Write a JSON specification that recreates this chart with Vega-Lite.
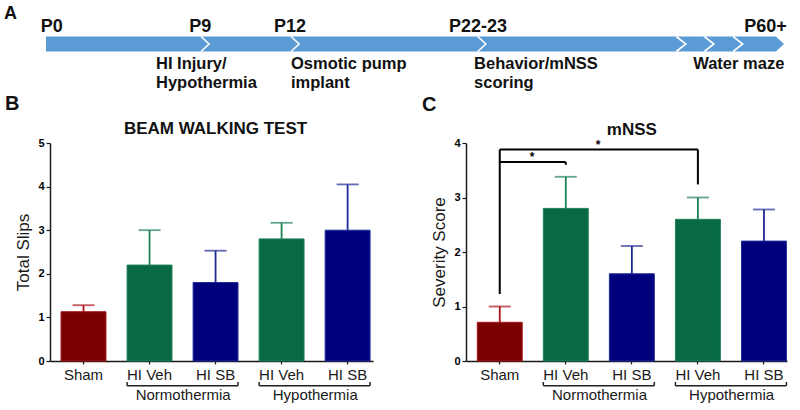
{
  "$schema": "https://vega.github.io/schema/vega-lite/v6.json",
  "background": "white",
  "padding": {"left": 3, "top": 2, "right": 5, "bottom": 0},
  "spacing": 2,
  "config": {
    "font": "Liberation Sans",
    "view": {"stroke": null},
    "axis": {"grid": false, "domainColor": "#1a1a1a", "domainWidth": 1.5, "tickColor": "#1a1a1a", "tickWidth": 1.2, "labelColor": "#1a1a1a", "titleColor": "#1a1a1a", "labelFont": "Liberation Sans", "titleFont": "Liberation Sans"},
    "axisY": {"labelFontWeight": "bold", "labelFontSize": 11, "labelColor": "#000", "tickSize": 4, "labelPadding": 2, "titlePadding": 5, "titleFontSize": 17, "titleFontWeight": "normal"},
    "axisX": {"labelAngle": 0, "labelFontSize": 15, "tickSize": 3, "labelPadding": 3},
    "title": {"font": "Liberation Sans"}
  },
  "vconcat": [
    {
      "width": 734,
      "height": 84,
      "layer": [
        {
          "data": {"values": [{"u": 0, "lo": -0.75, "hi": 0.75}, {"u": 98.9, "lo": -0.75, "hi": 0.75}, {"u": 100, "lo": 0, "hi": 0}]},
          "mark": {"type": "area", "color": "#5b9bd5"},
          "encoding": {
            "x": {"field": "u", "type": "quantitative", "scale": {"domain": [0.54, 100], "nice": false, "zero": false}, "axis": null},
            "y": {"field": "lo", "type": "quantitative", "scale": {"domain": [-4.2, 4.2], "nice": false, "zero": false}, "axis": null},
            "y2": {"field": "hi"}
          }
        },
        {
          "data": {"values": [
            {"c": 1, "k": 1, "u": 21.0, "v": 0.75}, {"c": 1, "k": 2, "u": 22.1, "v": 0}, {"c": 1, "k": 3, "u": 21.0, "v": -0.75},
            {"c": 2, "k": 1, "u": 33.2, "v": 0.75}, {"c": 2, "k": 2, "u": 34.3, "v": 0}, {"c": 2, "k": 3, "u": 33.2, "v": -0.75},
            {"c": 3, "k": 1, "u": 58.5, "v": 0.75}, {"c": 3, "k": 2, "u": 59.6, "v": 0}, {"c": 3, "k": 3, "u": 58.5, "v": -0.75},
            {"c": 4, "k": 1, "u": 85.4, "v": 0.75}, {"c": 4, "k": 2, "u": 86.7, "v": 0}, {"c": 4, "k": 3, "u": 85.4, "v": -0.75},
            {"c": 5, "k": 1, "u": 89.2, "v": 0.75}, {"c": 5, "k": 2, "u": 90.5, "v": 0}, {"c": 5, "k": 3, "u": 89.2, "v": -0.75},
            {"c": 6, "k": 1, "u": 93.1, "v": 0.75}, {"c": 6, "k": 2, "u": 94.4, "v": 0}, {"c": 6, "k": 3, "u": 93.1, "v": -0.75}
          ]},
          "mark": {"type": "line", "color": "white", "strokeWidth": 1.6},
          "encoding": {
            "x": {"field": "u", "type": "quantitative", "axis": null},
            "y": {"field": "v", "type": "quantitative", "axis": null},
            "detail": {"field": "c"},
            "order": {"field": "k"}
          }
        },
        {
          "data": {"values": [{"label": "P0", "u": -0.7}, {"label": "P9", "u": 19.4}, {"label": "P12", "u": 30.9}, {"label": "P22-23", "u": 54.6}, {"label": "P60+", "u": 94.6}]},
          "mark": {"type": "text", "align": "left", "baseline": "alphabetic", "fontSize": 18, "fontWeight": "bold", "color": "#111"},
          "encoding": {
            "x": {"field": "u", "type": "quantitative", "axis": null},
            "y": {"datum": 1.18, "type": "quantitative", "axis": null},
            "text": {"field": "label"}
          }
        },
        {
          "data": {"values": [{"label": "HI Injury/|Hypothermia", "u": 14.9}, {"label": "Osmotic pump|implant", "u": 33.2}, {"label": "Behavior/mNSS|scoring", "u": 58.0}, {"label": "Water maze", "u": 87.7}]},
          "mark": {"type": "text", "align": "left", "baseline": "alphabetic", "fontSize": 16.5, "fontWeight": "bold", "color": "#111", "lineBreak": "|", "lineHeight": 19.5},
          "encoding": {
            "x": {"field": "u", "type": "quantitative", "axis": null},
            "y": {"datum": -2.45, "type": "quantitative", "axis": null},
            "text": {"field": "label"}
          }
        },
        {
          "data": {"values": [{"label": "A", "u": -5.7}]},
          "mark": {"type": "text", "align": "left", "baseline": "alphabetic", "fontSize": 18, "fontWeight": "bold", "color": "#111"},
          "encoding": {
            "x": {"field": "u", "type": "quantitative", "axis": null},
            "y": {"datum": 2.55, "type": "quantitative", "axis": null},
            "text": {"field": "label"}
          }
        }
      ]
    },
    {
      "spacing": 48,
      "hconcat": [
        {
          "width": 323,
          "height": 218,
          "title": {"text": "B", "anchor": "start", "frame": "bounds", "fontSize": 20, "fontWeight": "bold", "dx": -10, "offset": 6, "color": "#111"},
          "data": {"values": [
            {"id": "Sham", "treatment": "Sham", "mean": 1.13, "upper": 1.28},
            {"id": "HI Veh_N", "treatment": "HI Veh", "mean": 2.2, "upper": 3.0},
            {"id": "HI SB_N", "treatment": "HI SB", "mean": 1.8, "upper": 2.53},
            {"id": "HI Veh_H", "treatment": "HI Veh", "mean": 2.8, "upper": 3.17},
            {"id": "HI SB_H", "treatment": "HI SB", "mean": 3.0, "upper": 4.05}
          ]},
          "encoding": {
            "x": {"field": "id", "type": "nominal",
              "scale": {"domain": ["Sham", "HI Veh_N", "HI SB_N", "HI Veh_H", "HI SB_H"], "paddingInner": 0.32, "paddingOuter": 0.106, "align": 0.79},
              "axis": {"title": null, "labelExpr": "split(datum.label,'_')[0]"}}
          },
          "layer": [
            {
              "mark": {"type": "bar", "strokeWidth": 1},
              "encoding": {
                "y": {"field": "mean", "type": "quantitative", "scale": {"domain": [0, 5], "nice": false},
                  "axis": {"title": "Total Slips", "values": [0, 1, 2, 3, 4, 5], "format": "d"}},
                "fill": {"field": "treatment", "type": "nominal", "scale": {"domain": ["Sham", "HI Veh", "HI SB"], "range": ["#7a0000", "#076a44", "#00007d"]}, "legend": null},
                "stroke": {"field": "treatment", "type": "nominal", "scale": {"domain": ["Sham", "HI Veh", "HI SB"], "range": ["#a8141a", "#1e8055", "#1f2a99"]}, "legend": null}
              }
            },
            {
              "mark": {"type": "rule", "strokeWidth": 1.8},
              "encoding": {
                "y": {"field": "mean", "type": "quantitative"},
                "y2": {"field": "upper"},
                "stroke": {"field": "treatment", "type": "nominal", "legend": null}
              }
            },
            {
              "mark": {"type": "tick", "thickness": 1.8, "size": 22},
              "encoding": {
                "y": {"field": "upper", "type": "quantitative"},
                "color": {"field": "treatment", "type": "nominal", "scale": {"domain": ["Sham", "HI Veh", "HI SB"], "range": ["#a8141a", "#1e8055", "#1f2a99"]}, "legend": null}
              }
            },
            {
              "data": {"values": [{"t": "BEAM WALKING TEST"}]},
              "mark": {"type": "text", "fontSize": 17, "fontWeight": "bold", "baseline": "alphabetic", "color": "#111"},
              "encoding": {
                "x": {"datum": "HI SB_N", "type": "nominal"},
                "y": {"datum": 5.2, "type": "quantitative"},
                "text": {"field": "t"}
              }
            },
            {
              "data": {"values": [{"from": "HI Veh_N", "to": "HI SB_N", "label": "Normothermia"}, {"from": "HI Veh_H", "to": "HI SB_H", "label": "Hypothermia"}]},
              "layer": [
                {
                  "mark": {"type": "rule", "strokeWidth": 1.5, "color": "#222"},
                  "encoding": {
                    "x": {"field": "from", "type": "nominal", "bandPosition": 0},
                    "x2": {"field": "to", "bandPosition": 1},
                    "y": {"datum": -0.57, "type": "quantitative"}
                  }
                },
                {
                  "mark": {"type": "rule", "strokeWidth": 1.5, "color": "#222"},
                  "encoding": {
                    "x": {"field": "from", "type": "nominal", "bandPosition": 0},
                    "y": {"datum": -0.57, "type": "quantitative"},
                    "y2": {"datum": -0.48}
                  }
                },
                {
                  "mark": {"type": "rule", "strokeWidth": 1.5, "color": "#222"},
                  "encoding": {
                    "x": {"field": "to", "type": "nominal", "bandPosition": 1},
                    "y": {"datum": -0.57, "type": "quantitative"},
                    "y2": {"datum": -0.48}
                  }
                },
                {
                  "mark": {"type": "text", "fontSize": 15, "baseline": "alphabetic", "color": "#1a1a1a"},
                  "encoding": {
                    "x": {"field": "from", "type": "nominal", "bandPosition": 1.25},
                    "y": {"datum": -0.9, "type": "quantitative"},
                    "text": {"field": "label"}
                  }
                }
              ]
            }
          ]
        },
        {
          "width": 321,
          "height": 218,
          "title": {"text": "C", "anchor": "start", "frame": "bounds", "fontSize": 20, "fontWeight": "bold", "dx": -9, "offset": 6, "color": "#111"},
          "data": {"values": [
            {"id": "Sham", "treatment": "Sham", "mean": 0.71, "upper": 1.0},
            {"id": "HI Veh_N", "treatment": "HI Veh", "mean": 2.8, "upper": 3.38},
            {"id": "HI SB_N", "treatment": "HI SB", "mean": 1.6, "upper": 2.11},
            {"id": "HI Veh_H", "treatment": "HI Veh", "mean": 2.6, "upper": 3.0},
            {"id": "HI SB_H", "treatment": "HI SB", "mean": 2.2, "upper": 2.78}
          ]},
          "encoding": {
            "x": {"field": "id", "type": "nominal",
              "scale": {"domain": ["Sham", "HI Veh_N", "HI SB_N", "HI Veh_H", "HI SB_H"], "paddingInner": 0.32, "paddingOuter": 0.09, "align": 0.95},
              "axis": {"title": null, "labelExpr": "split(datum.label,'_')[0]"}}
          },
          "layer": [
            {
              "mark": {"type": "bar", "strokeWidth": 1},
              "encoding": {
                "y": {"field": "mean", "type": "quantitative", "scale": {"domain": [0, 4], "nice": false},
                  "axis": {"title": "Severity Score", "values": [0, 1, 2, 3, 4], "format": "d"}},
                "fill": {"field": "treatment", "type": "nominal", "scale": {"domain": ["Sham", "HI Veh", "HI SB"], "range": ["#7a0000", "#076a44", "#00007d"]}, "legend": null},
                "stroke": {"field": "treatment", "type": "nominal", "scale": {"domain": ["Sham", "HI Veh", "HI SB"], "range": ["#a8141a", "#1e8055", "#1f2a99"]}, "legend": null}
              }
            },
            {
              "mark": {"type": "rule", "strokeWidth": 1.8},
              "encoding": {
                "y": {"field": "mean", "type": "quantitative"},
                "y2": {"field": "upper"},
                "stroke": {"field": "treatment", "type": "nominal", "legend": null}
              }
            },
            {
              "mark": {"type": "tick", "thickness": 1.8, "size": 22},
              "encoding": {
                "y": {"field": "upper", "type": "quantitative"},
                "color": {"field": "treatment", "type": "nominal", "scale": {"domain": ["Sham", "HI Veh", "HI SB"], "range": ["#a8141a", "#1e8055", "#1f2a99"]}, "legend": null}
              }
            },
            {
              "data": {"values": [{"t": "mNSS"}]},
              "mark": {"type": "text", "fontSize": 17, "fontWeight": "bold", "baseline": "alphabetic", "color": "#111"},
              "encoding": {
                "x": {"datum": "HI SB_N", "type": "nominal"},
                "y": {"datum": 4.15, "type": "quantitative"},
                "text": {"field": "t"}
              }
            },
            {
              "data": {"values": [{"at": "Sham", "lo": 1.23, "hi": 3.88}]},
              "mark": {"type": "rule", "strokeWidth": 2, "color": "#000"},
              "encoding": {
                "x": {"field": "at", "type": "nominal", "bandPosition": 0.5},
                "y": {"field": "lo", "type": "quantitative"},
                "y2": {"field": "hi"}
              }
            },
            {
              "data": {"values": [
                {"from": "Sham", "to": "HI Veh_N", "level": 3.65, "drop": 3.6, "star": "HI Veh_N"},
                {"from": "Sham", "to": "HI Veh_H", "level": 3.88, "drop": 3.24, "star": "HI SB_N"}
              ]},
              "layer": [
                {
                  "mark": {"type": "rule", "strokeWidth": 2, "color": "#000"},
                  "encoding": {
                    "x": {"field": "from", "type": "nominal", "bandPosition": 0.5},
                    "x2": {"field": "to", "bandPosition": 0.5},
                    "y": {"field": "level", "type": "quantitative"}
                  }
                },
                {
                  "mark": {"type": "rule", "strokeWidth": 2, "color": "#000"},
                  "encoding": {
                    "x": {"field": "to", "type": "nominal", "bandPosition": 0.5},
                    "y": {"field": "level", "type": "quantitative"},
                    "y2": {"field": "drop"}
                  }
                },
                {
                  "mark": {"type": "text", "text": "*", "fontSize": 12, "fontWeight": "bold", "baseline": "alphabetic", "dy": -1, "color": "#000"},
                  "encoding": {
                    "x": {"field": "star", "type": "nominal", "bandPosition": -0.25},
                    "y": {"field": "level", "type": "quantitative"}
                  }
                }
              ]
            },
            {
              "data": {"values": [{"from": "HI Veh_N", "to": "HI SB_N", "label": "Normothermia"}, {"from": "HI Veh_H", "to": "HI SB_H", "label": "Hypothermia"}]},
              "layer": [
                {
                  "mark": {"type": "rule", "strokeWidth": 1.5, "color": "#222"},
                  "encoding": {
                    "x": {"field": "from", "type": "nominal", "bandPosition": 0},
                    "x2": {"field": "to", "bandPosition": 1},
                    "y": {"datum": -0.454, "type": "quantitative"}
                  }
                },
                {
                  "mark": {"type": "rule", "strokeWidth": 1.5, "color": "#222"},
                  "encoding": {
                    "x": {"field": "from", "type": "nominal", "bandPosition": 0},
                    "y": {"datum": -0.454, "type": "quantitative"},
                    "y2": {"datum": -0.385}
                  }
                },
                {
                  "mark": {"type": "rule", "strokeWidth": 1.5, "color": "#222"},
                  "encoding": {
                    "x": {"field": "to", "type": "nominal", "bandPosition": 1},
                    "y": {"datum": -0.454, "type": "quantitative"},
                    "y2": {"datum": -0.385}
                  }
                },
                {
                  "mark": {"type": "text", "fontSize": 15, "baseline": "alphabetic", "color": "#1a1a1a"},
                  "encoding": {
                    "x": {"field": "from", "type": "nominal", "bandPosition": 1.25},
                    "y": {"datum": -0.72, "type": "quantitative"},
                    "text": {"field": "label"}
                  }
                }
              ]
            }
          ]
        }
      ]
    }
  ]
}
